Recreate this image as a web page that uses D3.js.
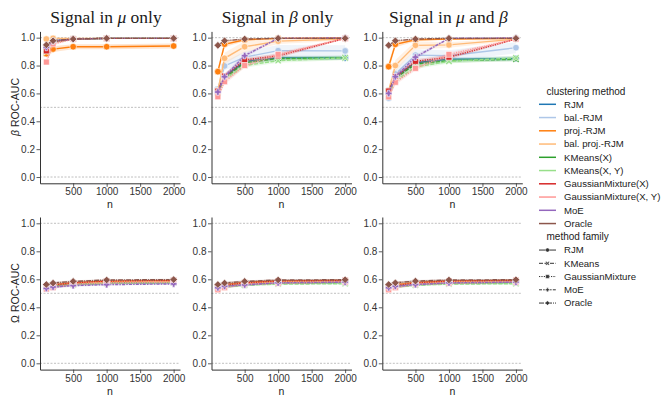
<!DOCTYPE html>
<html>
  <head>
    <meta charset="utf-8">
    <title>ROC-AUC by n</title>
    <script type="text/javascript" src="https://cdn.jsdelivr.net/npm/d3@7"></script>
    <style>
      body { margin: 0; background: #fff; }
      text { font-family: "Liberation Sans", Arial, sans-serif; }
      text.title, text.title tspan { font-family: "Liberation Serif", "DejaVu Serif", serif; }
    </style>
  </head>
  <body>
    <svg id="chart" width="664" height="396"></svg>
    <script type="text/javascript">
      // sample sizes on the x axis
      var nValues = [100, 200, 500, 1000, 2000];
      var xTicks = [500, 1000, 1500, 2000];
      var yTicks = [0, 0.2, 0.4, 0.6, 0.8, 1.0];

      var methods = ["RJM", "bal.-RJM", "proj.-RJM", "bal. proj.-RJM", "KMeans(X)", "KMeans(X, Y)",
                     "GaussianMixture(X)", "GaussianMixture(X, Y)", "MoE", "Oracle"];
      var methodFamily = ["RJM", "RJM", "RJM", "RJM", "KMeans", "KMeans",
                          "GaussianMixture", "GaussianMixture", "MoE", "Oracle"];
      var families = ["RJM", "KMeans", "GaussianMixture", "MoE", "Oracle"];
      var methodColors = ["#1f77b4", "#aec7e8", "#ff7f0e", "#ffbb78", "#2ca02c", "#98df8a",
                          "#d62728", "#ff9896", "#9467bd", "#8c564b"];

      // beta ROC-AUC, one row per method (same order as methods)
      var betaMuOnly = [
        [0.885, 0.975, 0.990, 0.995, 0.995],
        [0.900, 0.975, 0.990, 0.995, 0.995],
        [0.885, 0.918, 0.935, 0.935, 0.940],
        [0.990, 0.995, 0.995, 0.995, 0.995],
        [0.915, 0.970, 0.990, 0.995, 0.995],
        [0.900, 0.965, 0.990, 0.995, 0.995],
        [0.905, 0.970, 0.990, 0.995, 0.995],
        [0.825, 0.955, 0.990, 0.995, 0.995],
        [0.930, 0.975, 0.990, 0.995, 0.995],
        [0.948, 0.978, 0.990, 0.995, 0.995]
      ];
      var betaMuOnlyCI = [
        [0.02, 0.01, 0.005, 0.003, 0.003],
        [0.02, 0.01, 0.005, 0.003, 0.003],
        [0.03, 0.02, 0.018, 0.018, 0.018],
        [0.01, 0.005, 0.003, 0.003, 0.003],
        [0.02, 0.01, 0.005, 0.003, 0.003],
        [0.02, 0.01, 0.005, 0.003, 0.003],
        [0.02, 0.01, 0.005, 0.003, 0.003],
        [0.02, 0.01, 0.005, 0.003, 0.003],
        [0.02, 0.01, 0.005, 0.003, 0.003],
        [0.01, 0.005, 0.003, 0.003, 0.003]
      ];
      var betaBetaOnly = [
        [0.630, 0.720, 0.830, 0.855, 0.855],
        [0.630, 0.797, 0.860, 0.907, 0.905],
        [0.756, 0.953, 0.985, 0.995, 0.998],
        [0.620, 0.852, 0.935, 0.975, 0.990],
        [0.610, 0.710, 0.820, 0.850, 0.855],
        [0.600, 0.700, 0.800, 0.835, 0.855],
        [0.617, 0.725, 0.840, 0.870, 0.995],
        [0.576, 0.684, 0.800, 0.880, 0.995],
        [0.610, 0.720, 0.871, 0.995, 0.998],
        [0.945, 0.978, 0.990, 0.995, 0.995]
      ];
      var betaBetaOnlyCI = [
        [0.02, 0.02, 0.015, 0.015, 0.015],
        [0.02, 0.03, 0.04, 0.04, 0.04],
        [0.03, 0.02, 0.01, 0.005, 0.003],
        [0.02, 0.04, 0.04, 0.02, 0.01],
        [0.02, 0.02, 0.015, 0.015, 0.015],
        [0.02, 0.02, 0.015, 0.015, 0.015],
        [0.02, 0.02, 0.015, 0.015, 0.005],
        [0.02, 0.02, 0.015, 0.015, 0.005],
        [0.02, 0.02, 0.015, 0.005, 0.003],
        [0.01, 0.005, 0.003, 0.003, 0.003]
      ];
      var betaBoth = [
        [0.620, 0.720, 0.820, 0.845, 0.850],
        [0.565, 0.740, 0.875, 0.870, 0.928],
        [0.792, 0.952, 0.985, 0.990, 0.995],
        [0.620, 0.800, 0.945, 0.948, 0.990],
        [0.610, 0.710, 0.810, 0.835, 0.845],
        [0.590, 0.690, 0.790, 0.830, 0.855],
        [0.617, 0.720, 0.830, 0.860, 0.990],
        [0.575, 0.680, 0.780, 0.880, 0.990],
        [0.600, 0.720, 0.860, 0.995, 0.998],
        [0.945, 0.978, 0.990, 0.995, 0.995]
      ];
      var betaBothCI = [
        [0.02, 0.02, 0.015, 0.015, 0.015],
        [0.02, 0.03, 0.04, 0.04, 0.04],
        [0.03, 0.02, 0.01, 0.005, 0.003],
        [0.02, 0.04, 0.03, 0.02, 0.01],
        [0.02, 0.02, 0.015, 0.015, 0.015],
        [0.02, 0.02, 0.015, 0.015, 0.015],
        [0.02, 0.02, 0.015, 0.015, 0.005],
        [0.02, 0.02, 0.015, 0.015, 0.005],
        [0.02, 0.02, 0.015, 0.005, 0.003],
        [0.01, 0.005, 0.003, 0.003, 0.003]
      ];

      // Omega ROC-AUC
      var omegaMuOnly = [
        [0.545, 0.555, 0.565, 0.575, 0.578],
        [0.540, 0.550, 0.562, 0.572, 0.576],
        [0.550, 0.560, 0.575, 0.585, 0.590],
        [0.548, 0.558, 0.570, 0.580, 0.585],
        [0.540, 0.550, 0.563, 0.572, 0.577],
        [0.538, 0.548, 0.560, 0.570, 0.575],
        [0.545, 0.558, 0.575, 0.588, 0.592],
        [0.530, 0.540, 0.565, 0.575, 0.580],
        [0.535, 0.545, 0.555, 0.562, 0.567],
        [0.563, 0.573, 0.585, 0.595, 0.598]
      ];
      var omegaBetaOnly = [
        [0.545, 0.555, 0.565, 0.575, 0.578],
        [0.540, 0.552, 0.565, 0.575, 0.578],
        [0.552, 0.562, 0.578, 0.588, 0.592],
        [0.548, 0.558, 0.572, 0.582, 0.586],
        [0.538, 0.548, 0.560, 0.570, 0.574],
        [0.535, 0.545, 0.558, 0.566, 0.568],
        [0.545, 0.558, 0.575, 0.588, 0.592],
        [0.525, 0.540, 0.565, 0.572, 0.580],
        [0.540, 0.550, 0.560, 0.575, 0.580],
        [0.563, 0.573, 0.585, 0.595, 0.597]
      ];
      var omegaBoth = [
        [0.545, 0.555, 0.565, 0.575, 0.578],
        [0.540, 0.552, 0.565, 0.575, 0.578],
        [0.552, 0.562, 0.578, 0.588, 0.592],
        [0.548, 0.558, 0.572, 0.582, 0.586],
        [0.538, 0.548, 0.560, 0.570, 0.574],
        [0.535, 0.545, 0.558, 0.566, 0.568],
        [0.540, 0.555, 0.575, 0.588, 0.592],
        [0.525, 0.540, 0.565, 0.572, 0.580],
        [0.540, 0.550, 0.562, 0.575, 0.580],
        [0.563, 0.575, 0.587, 0.595, 0.597]
      ];
      var omegaCI = [0.012, 0.01, 0.008, 0.006, 0.006];

      var familyDash = {
        "RJM": null,
        "KMeans": "4,1.5",
        "GaussianMixture": "1.2,1.2",
        "MoE": "3,1.2,1.5,1.2",
        "Oracle": "5,1,1,1"
      };
      var familySymbol = {
        "RJM": "circle",
        "KMeans": "x",
        "GaussianMixture": "square",
        "MoE": "plus",
        "Oracle": "diamond"
      };

      var svg = d3.select("#chart");

      var colLeft = [40, 211.5, 382.3];
      var panelW = 140;
      var rowRange = [[183.3, 31.4], [369.6, 217.0]];

      var x = d3.scaleLinear().domain([5, 2095]);
      var yDomain = [-0.045, 1.045];

      function markerPath(kind, r) {
        if (kind == "circle") {
          return d3.symbol().type(d3.symbolCircle).size(Math.PI * r * r)();
        }
        if (kind == "square") {
          var s = r * 0.9;
          return "M" + (-s) + "," + (-s) + "H" + s + "V" + s + "H" + (-s) + "Z";
        }
        if (kind == "diamond") {
          var d = r * 1.15;
          return "M0," + (-d) + "L" + d + ",0L0," + d + "L" + (-d) + ",0Z";
        }
        if (kind == "plus") {
          var a = r, b = r * 0.38;
          return "M" + (-b) + "," + (-a) + "H" + b + "V" + (-b) + "H" + a + "V" + b + "H" + b + "V" + a +
                 "H" + (-b) + "V" + b + "H" + (-a) + "V" + (-b) + "H" + (-b) + "Z";
        }
        // X
        var t = r * 0.32, R = r;
        var pts = [[0, -t * 1.4], [R - t, -R], [R, -R + t], [t * 1.4, 0], [R, R - t], [R - t, R],
                   [0, t * 1.4], [-R + t, R], [-R, R - t], [-t * 1.4, 0], [-R, -R + t], [-R + t, -R]];
        return "M" + pts.map(function (p) { return p.join(","); }).join("L") + "Z";
      }

      function drawPanel(col, row, values, ci) {
        var xs = x.copy().range([colLeft[col], colLeft[col] + panelW]);
        var ys = d3.scaleLinear().domain(yDomain).range(rowRange[row]);
        var g = svg.append("g");

        // reference lines at 0, 0.5, 1
        g.selectAll(".ref").data([0, 0.5, 1]).enter().append("line")
          .attr("x1", colLeft[col]).attr("x2", colLeft[col] + panelW)
          .attr("y1", function (d) { return ys(d); })
          .attr("y2", function (d) { return ys(d); })
          .attr("stroke", "#b0b0b0").attr("stroke-width", 0.8)
          .attr("stroke-dasharray", "2,1.5");

        values.forEach(function (vals, i) {
          var pts = nValues.map(function (n, j) {
            var h = Array.isArray(ci[i]) ? ci[i][j] : ci[j];
            return { n: n, v: vals[j], lo: vals[j] - h, hi: Math.min(vals[j] + h, 1.0) };
          });
          var col0 = methodColors[i];
          g.append("path").datum(pts)
            .attr("d", d3.area()
              .x(function (d) { return xs(d.n); })
              .y0(function (d) { return ys(d.lo); })
              .y1(function (d) { return ys(d.hi); }))
            .attr("fill", col0).attr("fill-opacity", 0.2).attr("stroke", "none");
          g.append("path").datum(pts)
            .attr("d", d3.line()
              .x(function (d) { return xs(d.n); })
              .y(function (d) { return ys(d.v); }))
            .attr("fill", "none").attr("stroke", col0).attr("stroke-width", 1.4)
            .attr("stroke-dasharray", familyDash[methodFamily[i]]);
          g.selectAll(".m" + i).data(pts).enter().append("path")
            .attr("transform", function (d) { return "translate(" + xs(d.n) + "," + ys(d.v) + ")"; })
            .attr("d", markerPath(familySymbol[methodFamily[i]], 3.3))
            .attr("fill", col0).attr("stroke", "#fff").attr("stroke-width", 0.6);
        });

        // axes
        var ax = g.append("g")
          .attr("transform", "translate(0," + rowRange[row][0] + ")")
          .call(d3.axisBottom(xs).tickValues(xTicks).tickSize(3.5).tickSizeOuter(0)
            .tickFormat(d3.format("d")));
        var ay = g.append("g")
          .attr("transform", "translate(" + colLeft[col] + ",0)")
          .call(d3.axisLeft(ys).tickValues(yTicks).tickSize(3.5).tickSizeOuter(0)
            .tickFormat(d3.format(".1f")));
        [ax, ay].forEach(function (a) {
          a.select(".domain").attr("stroke", "#333").attr("stroke-width", 1);
          a.selectAll(".tick line").attr("stroke", "#333").attr("stroke-width", 0.8);
          a.selectAll(".tick text").attr("fill", "#333").style("font-size", "10px")
            .style("font-family", "'Liberation Sans', Arial, sans-serif");
        });
        ay.selectAll(".tick text").attr("x", -5);
        ax.selectAll(".tick text").attr("y", 5);

        g.append("text")
          .attr("x", colLeft[col] + panelW / 2).attr("y", rowRange[row][0] + 25)
          .attr("text-anchor", "middle").attr("fill", "#222").style("font-size", "10.5px")
          .text("n");
      }

      var topData = [[betaMuOnly, betaMuOnlyCI], [betaBetaOnly, betaBetaOnlyCI], [betaBoth, betaBothCI]];
      var bottomData = [omegaMuOnly, omegaBetaOnly, omegaBoth];
      for (var c = 0; c < 3; c++) {
        drawPanel(c, 0, topData[c][0], topData[c][1]);
        drawPanel(c, 1, bottomData[c], omegaCI);
      }

      // titles (serif, greek letters italic)
      var titleParts = [
        [["Signal in ", false], ["\u03bc", true], [" only", false]],
        [["Signal in ", false], ["\u03b2", true], [" only", false]],
        [["Signal in ", false], ["\u03bc", true], [" and ", false], ["\u03b2", true]]
      ];
      titleParts.forEach(function (parts, i) {
        var t = svg.append("text").attr("class", "title")
          .attr("x", colLeft[i] + panelW / 2 - 4).attr("y", 23)
          .attr("text-anchor", "middle").attr("fill", "#1a1a1a")
          .style("font-size", "17.5px");
        parts.forEach(function (p) {
          t.append("tspan").text(p[0]).style("font-style", p[1] ? "italic" : "normal");
        });
      });

      // y labels
      [["\u03b2", 107], ["\u03a9", 293]].forEach(function (l) {
        var t = svg.append("text")
          .attr("transform", "translate(19," + l[1] + ") rotate(-90)")
          .attr("text-anchor", "middle").attr("fill", "#222").style("font-size", "10.5px");
        t.append("tspan").text(l[0]).style("font-style", l[0] == "\u03b2" ? "italic" : "normal");
        t.append("tspan").text(" ROC-AUC");
      });

      // legend
      var lg = svg.append("g");
      var lx = 539, rowH = 13.25, ly0 = 104.3;
      lg.append("text").attr("x", 546.5).attr("y", 91.7).attr("dy", "0.35em")
        .attr("fill", "#222").style("font-size", "10px").text("clustering method");
      methods.forEach(function (m, i) {
        var yy = ly0 + i * rowH;
        lg.append("line").attr("x1", lx).attr("x2", lx + 17).attr("y1", yy).attr("y2", yy)
          .attr("stroke", methodColors[i]).attr("stroke-width", 1.5);
        lg.append("text").attr("x", 564).attr("y", yy).attr("dy", "0.35em")
          .attr("fill", "#222").style("font-size", "9.6px").text(m);
      });
      var fy = ly0 + methods.length * rowH;
      lg.append("text").attr("x", 546.5).attr("y", fy).attr("dy", "0.35em")
        .attr("fill", "#222").style("font-size", "10px").text("method family");
      families.forEach(function (f, i) {
        var yy = fy + (i + 1) * rowH;
        lg.append("line").attr("x1", lx).attr("x2", lx + 17).attr("y1", yy).attr("y2", yy)
          .attr("stroke", "#333").attr("stroke-width", 1)
          .attr("stroke-dasharray", familyDash[f]);
        lg.append("path").attr("transform", "translate(" + (lx + 8.5) + "," + yy + ")")
          .attr("d", markerPath(familySymbol[f], 2))
          .attr("fill", "#333").attr("stroke", "#fff").attr("stroke-width", 0.4);
        lg.append("text").attr("x", 564).attr("y", yy).attr("dy", "0.35em")
          .attr("fill", "#222").style("font-size", "9.6px").text(f);
      });
    </script>
  </body>
</html>
